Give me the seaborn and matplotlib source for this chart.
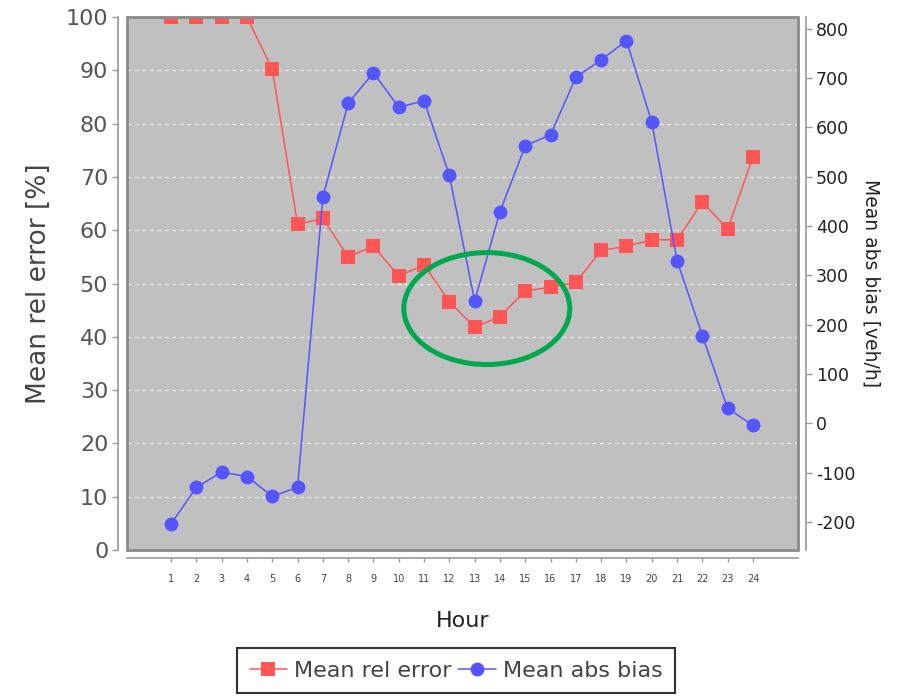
import numpy as np
import pandas as pd
import matplotlib
matplotlib.use("Agg")
import matplotlib.pyplot as plt
import seaborn as sns
from matplotlib.patches import Ellipse, Rectangle

# data
hours = list(range(1, 25))
rel_error = [100, 100, 100, 100, 90.2, 61.1, 62.2, 55.0, 57.0, 51.4, 53.5, 46.6,
             41.8, 43.8, 48.6, 49.3, 50.2, 56.2, 57.0, 58.2, 58.2, 65.3, 60.2, 73.8]
abs_bias = [-204, -130, -99, -108, -148, -130, 459, 649, 711, 641, 654, 503,
            248, 429, 563, 585, 702, 737, 776, 611, 330, 178, 30, -4]
left_ticks = list(range(0, 101, 10))
right_ticks = list(range(-200, 801, 100))

df = pd.DataFrame({"Hour": hours, "Mean rel error": rel_error, "Mean abs bias": abs_bias})

sns.set_style("white")
plt.rcParams['font.family'] = ['DejaVu Sans']
plt.rcParams['axes.unicode_minus'] = False

red = '#ff5555'
blue = '#5555ff'

fig = plt.figure(figsize=(9.12, 6.97), dpi=100)
ax = fig.add_axes([0.1393, 0.2109, 0.7357, 0.7647])
ax.set_facecolor('#c0c0c0')
ax2 = ax.twinx()

sns.lineplot(data=df, x="Hour", y="Mean rel error", ax=ax, color=red, marker='s',
             markersize=9.5, markeredgewidth=0, linewidth=1.1, label="Mean rel error")
sns.lineplot(data=df, x="Hour", y="Mean abs bias", ax=ax2, color=blue, marker='o',
             markersize=10, markeredgewidth=0, linewidth=1.1, label="Mean abs bias")

ax.set_xlim(-0.74, 25.78)
ax.set_ylim(0, 100)
ax2.set_ylim(-257, 824)
ax.set_xticks(hours)
ax.set_yticks(left_ticks)
ax2.set_yticks(right_ticks)

# dashed white gridlines
ax.grid(axis='y', color='#eeeeee', linestyle=(0, (3, 3)), linewidth=0.9)
ax.grid(axis='x', visible=False)
ax.set_axisbelow(True)

# spines detached from the plot area
for s in ['top', 'right']:
    ax.spines[s].set_visible(False)
for s in ['top', 'left', 'bottom']:
    ax2.spines[s].set_visible(False)
ax.spines['left'].set_position(('outward', 6.5))
ax.spines['bottom'].set_position(('outward', 6))
ax2.spines['right'].set_position(('outward', 6))
for sp in [ax.spines['left'], ax.spines['bottom'], ax2.spines['right']]:
    sp.set_color('#999999')
    sp.set_linewidth(1.2)

ax.add_patch(Rectangle((0, 0), 1, 1, transform=ax.transAxes, fill=False,
                       edgecolor='#8a8a8a', linewidth=2, clip_on=False, zorder=10))

ax.tick_params(axis='y', direction='out', length=4, width=1, color='#999999',
               labelsize=16, labelcolor='#555555', left=True, pad=3)
ax.tick_params(axis='x', direction='out', length=3, width=1, color='#999999',
               labelsize=7, labelcolor='#444444', bottom=True, pad=8)
ax2.tick_params(axis='y', direction='out', length=4, width=1, color='#999999',
                labelsize=12.5, labelcolor='#222222', right=True, pad=3)

ax.set_xlabel('Hour', fontsize=16, color='#222222', labelpad=20)
ax.set_ylabel('Mean rel error [%]', fontsize=19, color='#444444', labelpad=10)
ax2.set_ylabel('Mean abs bias [veh/h]', fontsize=13.5, color='#222222',
               rotation=270, labelpad=18)

# highlight of the minimum region
ell = Ellipse((13.48, 45.3), width=6.56, height=21.0, fill=False,
              edgecolor='#00a84f', linewidth=3.6, transform=ax.transData, zorder=6)
ax2.add_patch(ell)

h1, l1 = ax.get_legend_handles_labels()
h2, l2 = ax2.get_legend_handles_labels()
ax.get_legend().remove()
ax2.get_legend().remove()
leg = fig.legend(h1 + h2, l1 + l2, loc='lower center', bbox_to_anchor=(0.5, -0.01),
                 ncol=2, fontsize=16, frameon=True, fancybox=False, edgecolor='black',
                 handlelength=1.7, handletextpad=0.3, columnspacing=0.3, borderpad=0.55)
leg.get_frame().set_linewidth(1.5)
for t in leg.get_texts():
    t.set_color('#444444')

fig.savefig('out.png', dpi=100)
